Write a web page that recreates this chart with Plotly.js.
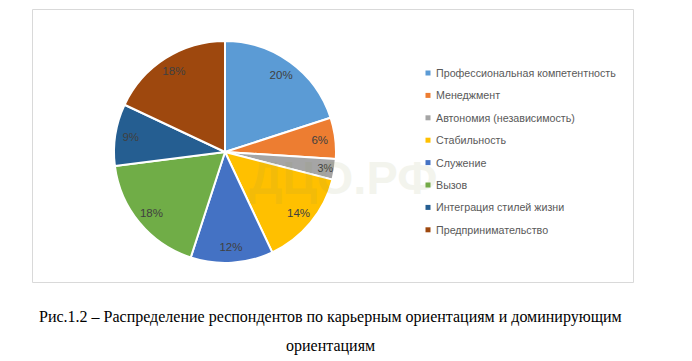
<!DOCTYPE html>
<html>
<head>
<meta charset="utf-8">
<script src="https://cdn.plot.ly/plotly-3.0.1.min.js"></script>
<style>html,body{margin:0;padding:0;background:#fff;}#chart{width:692px;height:361px;}</style>
</head>
<body>
<div id="chart"></div>
<script>
var categories = ["Профессиональная компетентность","Менеджмент","Автономия (независимость)","Стабильность","Служение","Вызов","Интеграция стилей жизни","Предпринимательство"];
var values = [20, 6, 3, 14, 12, 18, 9, 18];
var colors = ["#5B9BD5","#ED7D31","#A5A5A5","#FFC000","#4472C4","#70AD47","#255E91","#9E480E"];
var captionLines = ["Рис.1.2 – Распределение респондентов по карьерным ориентациям и доминирующим","ориентациям"];

var W = 692, H = 361;
function px(x){return x/W;}
function py(y){return 1 - y/H;}
var cx = 225, cy = 152, R = 111;
var dom = {x: [px(cx - R), px(cx + R)], y: [py(cy + R), py(cy - R)]};

var traces = [{
  type: 'pie',
  labels: categories,
  values: values,
  sort: false,
  direction: 'clockwise',
  rotation: 0,
  marker: {colors: colors, line: {color: '#ffffff', width: 2}},
  textinfo: 'none',
  hoverinfo: 'label+percent',
  showlegend: false,
  domain: dom
}, {
  // transparent ring that only carries the percentage labels
  type: 'pie',
  labels: categories,
  values: values,
  sort: false,
  direction: 'clockwise',
  rotation: 0,
  hole: 0.72,
  marker: {colors: categories.map(function(){return 'rgba(0,0,0,0)';}), line: {width: 0}},
  texttemplate: '%{percent:.0%}',
  textposition: 'inside',
  insidetextorientation: 'horizontal',
  textfont: {family: '"Liberation Sans", Arial, sans-serif', size: 11.5, color: '#404040'},
  hoverinfo: 'skip',
  showlegend: false,
  domain: dom
}];

var shapes = [{
  type: 'rect', xref: 'paper', yref: 'paper',
  x0: px(32.5), x1: px(633.5), y0: py(282.5), y1: py(9.5),
  line: {color: '#D9D9D9', width: 1}, fillcolor: 'rgba(0,0,0,0)'
}];
var annotations = [];
var legY0 = 73, legDY = 22.4, legX = 428;
for (var i = 0; i < categories.length; i++) {
  var y = legY0 + i * legDY;
  shapes.push({type: 'rect', xref: 'paper', yref: 'paper',
    x0: px(legX - 2.5), x1: px(legX + 2.5), y0: py(y + 2.5), y1: py(y - 2.5),
    line: {width: 0}, fillcolor: colors[i]});
  annotations.push({xref: 'paper', yref: 'paper', x: px(legX + 6), y: py(y),
    xanchor: 'left', yanchor: 'middle', showarrow: false, text: categories[i],
    font: {family: '"Liberation Sans", Arial, sans-serif', size: 10.7, color: '#595959'}});
}
var capFont = {family: '"Liberation Serif", "Times New Roman", serif', size: 16, color: '#000'};
annotations.push({xref: 'paper', yref: 'paper', x: px(330), y: py(317), xanchor: 'center', yanchor: 'middle',
  showarrow: false, text: captionLines[0], font: capFont});
annotations.push({xref: 'paper', yref: 'paper', x: px(330), y: py(346), xanchor: 'center', yanchor: 'middle',
  showarrow: false, text: captionLines[1], font: capFont});
annotations.push({xref: 'paper', yref: 'paper', x: px(343), y: py(177), xanchor: 'center', yanchor: 'middle',
  showarrow: false, text: '<b>ДЦО.РФ</b>', opacity: 0.1,
  font: {family: '"Liberation Sans", Arial, sans-serif', size: 47, color: '#8f9a55'}});

var layout = {
  width: W, height: H,
  margin: {l: 0, r: 0, t: 0, b: 0},
  paper_bgcolor: '#ffffff',
  showlegend: false,
  shapes: shapes,
  annotations: annotations
};
Plotly.newPlot('chart', traces, layout, {displayModeBar: false, staticPlot: true});
</script>
</body>
</html>
